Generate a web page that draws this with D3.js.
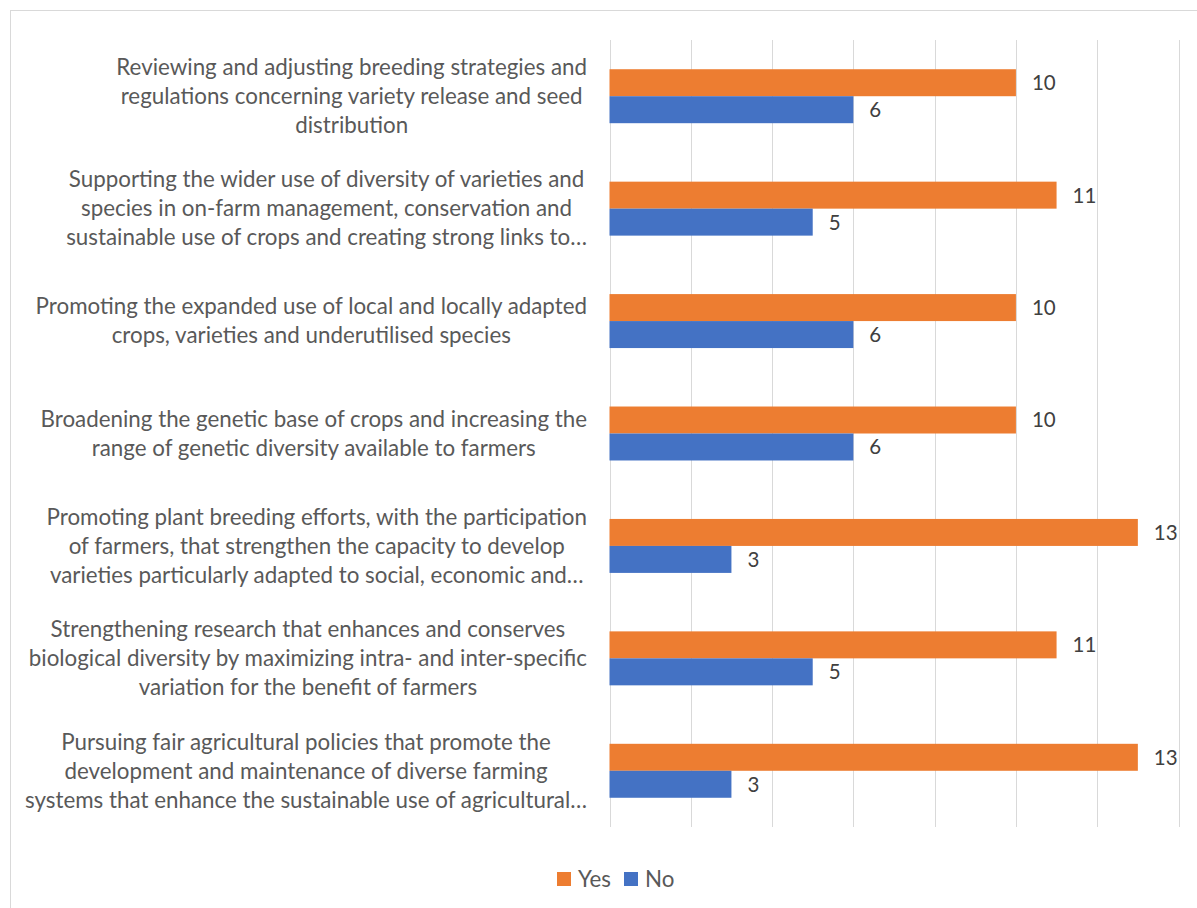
<!DOCTYPE html>
<html>
<head>
<meta charset="utf-8">
<script src="https://cdn.jsdelivr.net/npm/d3@7"></script>
<style>
  html, body { margin: 0; padding: 0; background: #fff; }
  svg { display: block; }
</style>
</head>
<body>
<svg id="chart" width="1197" height="908"></svg>
<script>
const categories = [
  ["Reviewing and adjusting breeding strategies and", "regulations concerning variety release and seed", "distribution"],
  ["Supporting the wider use of diversity of varieties and", "species in on-farm management, conservation and", "sustainable use of crops and creating strong links to…"],
  ["Promoting the expanded use of local and locally adapted", "crops, varieties and underutilised species"],
  ["Broadening the genetic base of crops and increasing the", "range of genetic diversity available to farmers"],
  ["Promoting plant breeding efforts, with the participation", "of farmers, that strengthen the capacity to develop", "varieties particularly adapted to social, economic and…"],
  ["Strengthening research that enhances and conserves", "biological diversity by maximizing intra- and inter-specific", "variation for the benefit of farmers"],
  ["Pursuing fair agricultural policies that promote the", "development and maintenance of diverse farming", "systems that enhance the sustainable use of agricultural…"]
];
const seriesNames = ["Yes", "No"];
const yesValues = [10, 11, 10, 10, 13, 11, 13];
const noValues = [6, 5, 6, 6, 3, 5, 3];
const xTicks = [0, 2, 4, 6, 8, 10, 12, 14];

const colors = { "Yes": "#ED7D31", "No": "#4472C4" };
const font = "Lato, 'Open Sans', sans-serif";

const svg = d3.select("#chart");

// chart border
svg.append("rect")
  .attr("x", 10.5).attr("y", 10.5)
  .attr("width", 1197).attr("height", 908)
  .attr("fill", "#fff").attr("stroke", "#d9d9d9").attr("stroke-width", 1);

const plot = { left: 609.5, right: 1178.5, top: 40, bottom: 827 };

const x = d3.scaleLinear().domain([0, 14]).range([plot.left, plot.right]);
const y = d3.scaleBand().domain(d3.range(categories.length))
  .range([plot.top, plot.bottom]).paddingInner(0.52).paddingOuter(0.26);
const ySub = d3.scaleBand().domain(seriesNames).range([0, y.bandwidth()]);

// gridlines
svg.append("g").selectAll("line").data(xTicks).join("line")
  .attr("x1", d => Math.round(x(d)) + 0.5).attr("x2", d => Math.round(x(d)) + 0.5)
  .attr("y1", plot.top).attr("y2", plot.bottom)
  .attr("stroke", "#d9d9d9").attr("stroke-width", 1);

const rows = categories.map((c, i) => ({ i, Yes: yesValues[i], No: noValues[i] }));

const groups = svg.append("g").selectAll("g").data(rows).join("g")
  .attr("transform", d => `translate(0,${y(d.i)})`);

seriesNames.forEach(s => {
  groups.append("rect")
    .attr("x", x(0))
    .attr("y", ySub(s))
    .attr("width", d => x(d[s]) - x(0))
    .attr("height", ySub.bandwidth())
    .attr("fill", colors[s]);
  groups.append("text")
    .attr("x", d => x(d[s]) + 16)
    .attr("y", ySub(s) + ySub.bandwidth() / 2)
    .attr("dy", "0.36em")
    .attr("font-family", font)
    .attr("font-size", 20.5)
    .attr("fill", "#404040")
    .text(d => d[s]);
});

// category labels
const labelRight = 587;
const lineH = 29;
const labG = svg.append("g").attr("font-family", font).attr("fill", "#595959");

// fit font size so the first label's first line matches the reference width
const probe = labG.append("text").attr("font-size", 20).text(categories[0][0]);
const w20 = probe.node().getComputedTextLength();
probe.remove();
const fs = 20 * 471 / w20;

categories.forEach((lines, i) => {
  const g = labG.append("g");
  const texts = lines.map((ln, k) => g.append("text")
    .attr("font-size", fs)
    .attr("text-anchor", "middle")
    .attr("dy", "0.35em")
    .text(ln));
  const maxW = d3.max(texts, t => t.node().getComputedTextLength());
  const cx = labelRight - maxW / 2;
  const cy = y(i) + y.bandwidth() / 2;
  texts.forEach((t, k) => {
    t.attr("x", cx).attr("y", cy + (k - (lines.length - 1) / 2) * lineH);
  });
});

// legend
const legend = svg.append("g").attr("font-family", font).attr("font-size", fs);
const legendItems = [
  { name: "Yes", x: 557 },
  { name: "No", x: 624 }
];
legendItems.forEach(it => {
  legend.append("rect").attr("x", it.x).attr("y", 872).attr("width", 14).attr("height", 14)
    .attr("fill", colors[it.name]);
  legend.append("text").attr("x", it.x + 21).attr("y", 879).attr("dy", "0.36em")
    .attr("fill", "#595959").text(it.name);
});
</script>
</body>
</html>
